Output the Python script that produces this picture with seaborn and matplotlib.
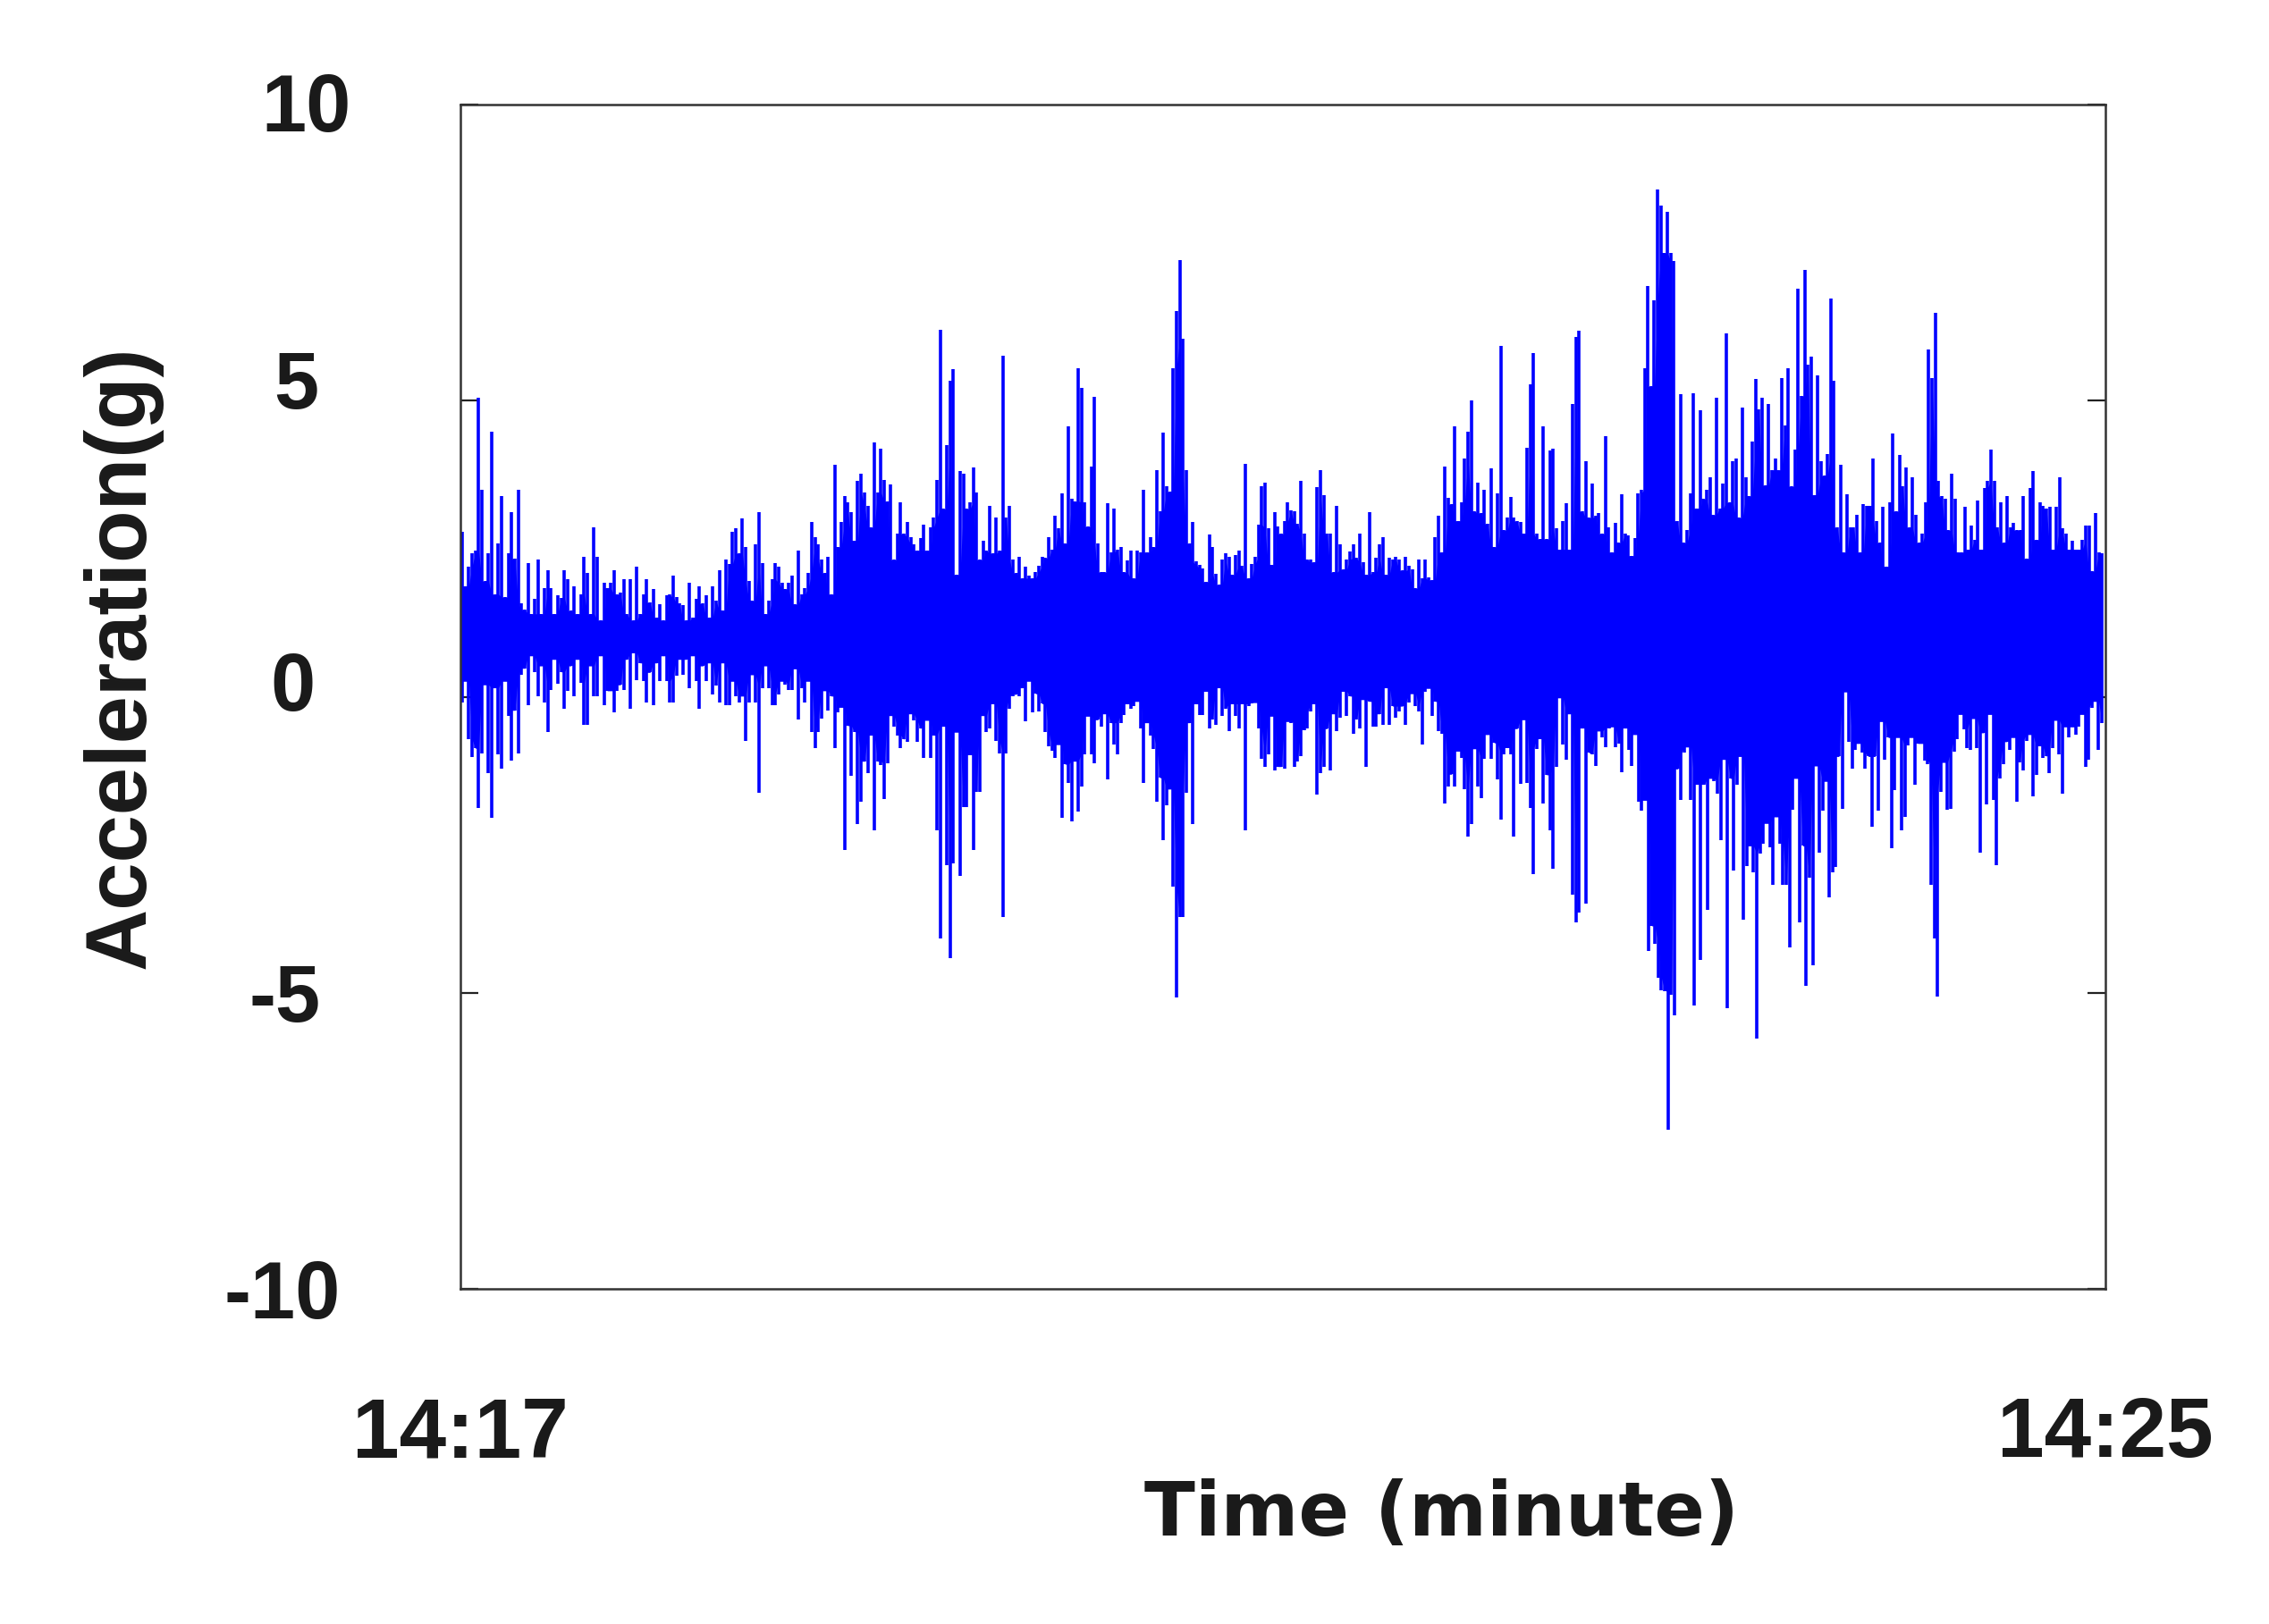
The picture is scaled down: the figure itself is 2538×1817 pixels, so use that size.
import numpy as np
import pandas as pd
import matplotlib
matplotlib.use("Agg")
import matplotlib.pyplot as plt
import seaborn as sns

# upper and lower envelope of the acceleration trace (g)
top_a = [2.79,1.87,2.20,2.42,2.47,5.05,3.50,1.95,2.42,4.47,1.73,2.59,3.39,1.68,2.42,3.12,2.33,3.50,1.57,1.47,
         2.25,1.40,1.65,2.31,1.40,1.84,2.14,1.84,1.40,1.71,1.67,2.14,1.98,1.45,1.87,1.40,1.73,2.36,2.09,1.40,
         2.86,2.36,1.29,1.93,1.84,1.93,2.14,1.73,1.76,1.98,1.40,1.98,1.29,2.20,1.40,1.73,1.98,1.59,1.82,1.34,
         1.56,1.29,1.71,1.73,2.04,1.68,1.58,1.54,1.29,1.93,1.34,1.65,1.87,1.57,1.71,1.34,1.87,1.62,2.14,1.46,
         2.31,2.24,2.79,2.84,2.42,3.01,2.53,1.95,1.62,2.58,3.12,2.25,1.40,1.62,1.98,2.25,2.20,1.93,1.82,1.93,
         2.04,1.56,2.47,1.73,1.84,2.09,2.95,2.70,2.58,2.31,2.09,2.36,1.73,3.92,2.53,2.95,3.39,3.28,3.12,2.64,
         3.65,3.76,3.45,3.23,2.86,4.30,3.45,4.19,3.66,3.30,3.59,2.31,2.75,3.28,2.75,2.95,2.69,2.58,2.47,2.68,
         2.90,2.47,2.86,3.02,3.66,6.19,3.17,4.25,5.33,5.53,2.06,3.81,3.77,3.17,3.28,3.87,3.45,2.31,2.64,2.47,
         3.23,2.42,3.02,2.47,5.76,3.02,3.23,2.31,2.09,2.36]
low_a = [-0.10,0.26,-0.72,-1.02,-0.87,-1.88,-0.96,0.20,-1.29,-2.04,0.15,-0.97,-1.22,0.26,-0.32,-1.08,-0.23,-0.96,0.37,0.48,
         -0.15,0.69,0.42,0.01,0.52,-0.10,-0.59,0.12,0.63,0.22,0.42,-0.21,0.10,0.52,0.01,0.63,0.23,-0.48,-0.48,0.52,
         0.01,0.01,0.69,-0.15,0.10,0.10,-0.26,0.10,0.20,0.12,0.63,-0.21,0.74,0.28,0.57,0.26,-0.10,0.41,-0.15,0.57,
         0.26,0.69,0.26,-0.10,-0.10,0.35,0.63,0.37,0.63,0.15,0.69,0.26,-0.21,0.52,0.26,0.57,0.04,0.19,-0.10,0.57,
         -0.15,-0.15,0.26,0.01,-0.10,0.01,-0.75,-0.10,0.37,-0.10,-1.62,0.15,0.52,0.15,-0.15,-0.15,0.04,0.26,0.20,0.12,
         0.12,0.47,-0.38,0.15,-0.10,0.26,-0.59,-0.87,-0.59,-0.37,0.10,-0.23,0.01,-0.87,-0.26,-0.18,-2.59,-0.49,-1.33,-0.59,
         -2.15,-1.78,-1.09,-1.29,-0.65,-2.26,-1.09,-1.16,-1.73,-1.13,-0.32,-0.50,-0.65,-0.87,-0.72,-0.76,-0.29,-0.40,-0.76,-0.54,
         -1.03,-0.40,-1.03,-0.65,-2.26,-4.09,-0.50,-2.85,-4.42,-2.81,-0.60,-3.03,-1.86,-1.86,-0.98,-2.59,-1.60,-1.60,-0.32,-0.60,
         -0.54,-0.12,-0.75,-0.96,-3.72,-0.96,-0.21,0.01,0.04,0.01]
top_b = [2.00,2.19,2.04,2.00,2.10,2.21,2.36,2.34,2.69,2.49,3.06,2.85,3.44,2.59,4.57,3.34,3.30,5.54,5.22,3.29,
         2.87,3.88,5.07,2.59,2.10,2.10,3.27,2.44,3.17,2.49,2.53,2.10,2.30,2.47,2.00,2.47,2.44,3.50,2.44,2.69,
         2.53,3.82,3.13,4.46,3.55,3.46,5.54,6.52,7.38,6.04,3.82,2.59,2.95,2.28,2.23,2.17,1.94,2.74,2.53,2.08,
         1.89,2.31,2.42,2.36,2.06,2.40,2.47,2.21,3.93,2.00,2.24,2.36,2.91,3.55,3.61,2.85,2.23,3.12,2.87,2.75,
         2.96,3.29,3.14,3.13,2.92,3.65,2.75,2.32,2.31,2.27,3.54,3.82,3.40,2.75,2.75,2.10,3.23,2.58,2.15,2.32,
         2.45,2.58,2.34,2.75,2.27,2.06,3.12,2.10,2.34,2.58,2.69,2.06,2.34,2.32,2.36,2.32,2.13,2.36,2.21,2.15,
         1.83,2.31,2.00,2.31,2.02,1.97,2.69,3.06,2.44,3.88,3.36,3.25,4.57,2.97,3.29,4.03,4.47,5.01,3.13,3.61,
         3.10,3.50,2.92,3.86,2.53,3.44,5.92,2.81,3.02,3.38,3.02,2.97,2.95,2.76,4.20,5.28,5.81,2.76,2.66,4.57,
         2.66,4.16,4.19,2.85,2.49,2.97,3.27,2.49,4.95]
low_b = [0.15,-0.42,0.26,-0.27,0.05,-0.25,-0.12,-0.60,-0.84,-0.92,-1.03,-0.81,-2.05,-1.14,-1.46,-2.11,-1.09,-1.94,-1.52,-0.97,
         -0.33,-0.97,-1.12,-0.39,-0.50,-0.29,-1.39,-0.44,-0.81,-0.97,-0.44,-0.31,-0.12,-0.20,-0.16,-0.08,-0.54,-1.46,-0.44,-0.65,
         -0.88,-1.77,-1.37,-2.42,-1.84,-1.56,-3.21,-5.08,-3.72,-3.72,-1.63,-0.44,-2.15,-0.12,-0.31,-0.31,0.09,-0.53,-0.39,-0.47,
         0.15,-0.33,-0.20,-0.58,-0.12,-0.33,-0.53,-0.12,-2.25,-0.16,-0.12,-0.10,-0.54,-1.05,-1.18,-0.97,-0.33,-1.24,-1.18,-1.18,
         -1.22,-0.42,-0.44,-1.18,-1.09,-1.01,-0.56,-0.54,-0.25,-0.12,-1.66,-1.29,-1.18,-0.54,-1.24,-0.29,-0.58,-0.36,0.09,-0.33,
         0.01,-0.63,-0.39,-0.54,-0.05,-1.18,-0.08,-0.50,-0.50,-0.29,-0.47,0.15,-0.47,-0.16,-0.36,-0.25,-0.16,-0.47,-0.10,0.05,
         -0.16,-0.25,-0.80,0.09,0.14,-0.33,-0.08,-0.58,-0.63,-1.81,-1.52,-1.31,-1.52,-0.92,-1.03,-1.56,-2.36,-2.15,-0.88,-1.52,
         -1.71,-1.05,-0.64,-1.05,-0.78,-1.39,-2.08,-0.97,-0.86,-0.97,-2.36,-0.54,-1.47,-0.39,-1.46,-1.88,-3.00,-0.88,-0.71,-1.81,
         -1.32,-2.25,-2.90,-1.18,-0.02,-0.80,-1.07,-0.29,-3.34]
top_c = [6.07,6.18,3.13,3.97,3.02,3.60,3.05,3.10,2.75,4.40,2.86,2.44,2.94,2.60,3.42,2.75,2.73,2.38,2.68,3.44,
         3.50,5.54,6.94,5.24,6.69,8.56,8.29,7.50,8.19,7.49,7.36,2.97,5.11,2.60,2.81,3.44,5.12,3.18,4.84,3.34,
         3.50,3.71,3.07,5.05,3.18,3.60,6.14,3.28,3.97,4.03,3.02,4.89,3.71,3.39,4.31,5.37,4.85,5.05,3.57,4.95,
         3.83,4.03,3.83,5.38,4.58,5.54,3.55,4.18,6.89,5.08,7.20,5.61,5.75,3.41,5.42,3.97,3.73,4.10,6.73,5.33,
         2.86,3.92,2.44,3.42,2.86,2.86,3.07,2.44,3.26,3.23,3.23,4.03,2.97,2.60,3.21,2.20,3.28,4.45,3.13,4.08,
         3.55,3.87,2.86,3.71,3.07,2.60,2.75,3.28,5.86,5.38,6.49,3.65,3.39,3.34,2.81,3.76,3.34,2.44,2.44,3.21,
         2.49,2.89,2.65,3.32,2.49,3.53,3.65,4.18,3.65,2.86,3.28,2.60,3.39,2.86,2.94,2.81,2.81,3.39,2.33,3.53,
         3.81,2.65,3.28,3.23,3.18,3.21,2.49,3.21,3.71,2.84,2.75,2.49,2.63,2.49,2.49,2.65,2.89,2.89,2.12,3.10,
         2.44,2.42]
low_c = [-3.81,-3.65,-0.53,-3.50,-0.95,-0.97,-1.17,-0.58,-0.69,-0.85,-0.53,-0.51,-0.85,-0.79,-1.27,-0.53,-0.90,-1.17,-0.64,-1.78,
         -1.93,-1.75,-4.29,-3.87,-4.18,-4.75,-4.96,-4.98,-7.31,-5.03,-5.38,-1.22,-1.75,-0.95,-0.85,-1.75,-5.21,-1.48,-4.45,-1.48,
         -3.60,-1.38,-1.43,-1.64,-2.42,-1.06,-5.26,-1.38,-2.94,-1.48,-1.01,-3.76,-2.86,-2.52,-2.97,-5.77,-2.65,-2.49,-2.14,-2.54,
         -3.18,-2.03,-2.49,-3.18,-3.18,-4.24,-1.91,-1.38,-3.81,-2.52,-4.89,-3.05,-4.53,-1.17,-2.63,-1.93,-1.43,-3.39,-2.97,-2.88,
         -1.01,-1.89,0.08,-0.76,-1.22,-0.90,-0.79,-0.95,-1.22,-1.01,-2.20,-1.01,-1.93,-0.42,-1.06,-0.69,-2.56,-1.57,-0.69,-2.25,
         -2.03,-0.83,-0.69,-1.48,-0.79,-0.79,-1.08,-1.14,-3.18,-4.08,-5.06,-1.61,-1.11,-1.91,-1.89,-0.93,-0.72,-0.30,-0.55,-0.87,
         -0.90,-0.37,-0.87,-2.63,-0.61,-1.82,-0.30,-1.75,-2.84,-1.38,-1.14,-0.76,-0.90,-0.69,-1.78,-1.11,-1.25,-0.74,-0.64,-1.69,
         -1.32,-0.83,-1.04,-1.01,-1.29,-0.87,-0.40,-0.97,-1.64,-0.51,-0.69,-0.51,-0.64,-0.51,-0.30,-1.19,-1.06,-0.19,-0.08,-0.90,
         -0.44]

# time span in seconds covered by each stretch of the lists above
spans = [(0.5, 163.1), (164.0, 324.6), (325.5, 479.0)]
mid_level = 1.0
y_ticks = [-10, -5, 0, 5, 10]
x_ticks = [0, 480]
x_labels = ["14:17", "14:25"]
W, H = 2538, 1817


def stems(lists):
    rows = []
    for vals, (t0, t1) in zip(lists, spans):
        rows.append(pd.DataFrame({"t": np.linspace(t0, t1, len(vals)), "accel": vals}))
    return pd.concat(rows, ignore_index=True)


def px_text(x, y, s, **kw):
    plt.gcf().text(x / W, 1 - y / H, s, fontweight="bold", color="k", **kw)


upper = stems([top_a, top_b, top_c])
lower = stems([low_a, low_b, low_c])

sns.set_theme(style="white")
plt.rcParams["font.family"] = ["Liberation Sans", "DejaVu Sans"]

# one stem per envelope reading, from the middle of the band out to the reading
n_up = len(upper)
n_low = len(lower)
trace = pd.concat([upper, upper.assign(accel=mid_level), lower, lower.assign(accel=mid_level)], ignore_index=True)
trace["unit"] = np.r_[np.arange(n_up), np.arange(n_up), np.arange(n_low) + n_up, np.arange(n_low) + n_up]

fig = plt.figure(figsize=(W / 100, H / 100), dpi=100)
ax = fig.add_axes([515 / W, 1 - 1442 / H, 1840 / W, 1325 / H])

# solid core, stems only show above what all neighbours reach
core_up = upper["accel"].rolling(3, center=True, min_periods=1).min()
core_low = lower["accel"].rolling(3, center=True, min_periods=1).max()
ax.fill_between(upper["t"], mid_level - 0.1, core_up, color="#0000ff", lw=0)
ax.fill_between(lower["t"], mid_level + 0.1, core_low, color="#0000ff", lw=0)

sns.lineplot(data=trace, x="t", y="accel", units="unit", estimator=None, color="#0000ff",
             linewidth=2.6, solid_capstyle="butt", legend=False, ax=ax)

ax.set_xlim(0, 480)
ax.set_ylim(-10, 10)
ax.set_xlabel("")
ax.set_ylabel("")
ax.set_yticks(y_ticks)
ax.set_yticklabels([])
ax.set_xticks(x_ticks)
ax.set_xticklabels(x_labels, fontsize=68, fontweight="bold", color="k")
ax.tick_params(axis="x", length=0, pad=86)
ax.tick_params(axis="y", left=True, right=True, direction="in", length=14.5, width=1.6, color="#222222")
for s in ax.spines.values():
    s.set_visible(True)
    s.set_color("#333333")
    s.set_linewidth(1.8)

px_text(393, 123, "10", fontsize=65, ha="right", va="center")
px_text(356, 434, "5", fontsize=65, ha="right", va="center")
px_text(353, 771, "0", fontsize=65, ha="right", va="center")
px_text(359, 1119, "-5", fontsize=65, ha="right", va="center")
px_text(381, 1451, "-10", fontsize=65, ha="right", va="center")
px_text(137, 735, "Acceleration(g)", fontsize=69, rotation=90, ha="center", va="center")
px_text(1612, 1694, "Time (minute)", fontsize=60, family="DejaVu Sans", ha="center", va="center")

fig.savefig("out.png", dpi=100)
